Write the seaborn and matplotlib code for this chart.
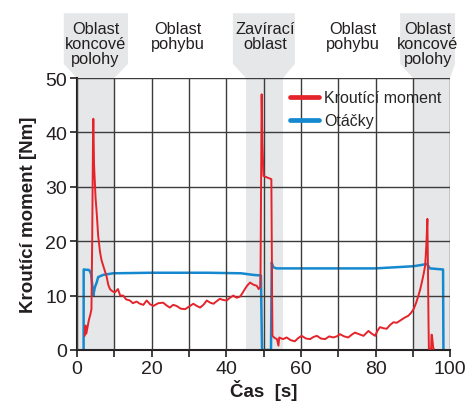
import matplotlib
matplotlib.use('Agg')
import matplotlib.pyplot as plt
from matplotlib.lines import Line2D
from matplotlib.patches import Polygon, Rectangle
import pandas as pd
import seaborn as sns

# --- data --------------------------------------------------------------
torque_t = [2.1, 2.3, 2.5, 2.8, 3.2, 3.6, 3.9, 4.1, 4.3, 4.4, 4.6, 5.0, 5.3, 5.7,
            6.2, 6.6, 7.05, 7.5, 7.9, 8.4, 8.85, 9.5, 10.2, 11.0, 11.6, 12.4,
            13.2, 14.2, 15.0, 16.0, 16.9, 17.8, 18.7, 19.6, 20.5, 21.8, 23.1,
            24.0, 24.9, 25.8, 26.7, 27.8, 29.0, 30.1, 31.2, 32.1, 33.0, 33.9,
            34.8, 35.7, 36.6, 37.5, 38.3, 39.2, 40.1, 41.0, 41.9, 42.8, 43.7,
            44.4, 45.0, 45.7, 46.4, 47.3, 48.2, 48.7, 49.1, 49.2, 49.35, 49.5,
            49.7, 50.0, 51.0, 52.1, 52.3, 52.4, 53.0, 53.6, 54.0, 54.2, 55.2,
            56.2, 57.3, 58.4, 59.3, 60.2, 61.4, 62.5, 63.4, 64.3, 65.4, 66.5,
            67.6, 68.7, 69.6, 70.5, 71.6, 72.7, 73.6, 74.5, 75.6, 76.8, 77.5,
            78.1, 79.0, 79.9, 80.5, 81.2, 82.1, 83.0, 83.9, 84.8, 85.7, 86.6,
            87.7, 88.8, 89.5, 90.2, 90.9, 91.5, 92.0, 92.4, 92.9, 93.3, 93.6,
            93.9, 94.05, 94.2, 94.3, 94.9, 95.0, 95.1, 95.5, 95.6]
torque_nm = [2.6, 4.5, 3.0, 4.0, 5.5, 6.5, 7.5, 20.0, 38.0, 42.5, 34.0, 28.0, 25.3,
             21.0, 18.0, 16.5, 15.5, 14.5, 13.7, 12.0, 11.2, 10.8, 10.6, 11.2,
             10.0, 10.0, 9.3, 9.1, 8.6, 8.9, 8.5, 8.3, 9.1, 8.4, 8.1, 8.6, 8.7,
             8.2, 7.8, 8.3, 8.1, 7.6, 7.5, 8.0, 8.5, 8.1, 7.8, 8.3, 9.1, 8.7,
             8.5, 9.0, 9.4, 9.2, 9.1, 9.6, 10.0, 9.6, 9.8, 10.5, 11.2, 11.9,
             12.4, 12.0, 11.8, 11.2, 11.6, 14.3, 30.0, 47.0, 38.0, 32.0, 31.7,
             31.4, 10.0, 2.6, 2.2, 2.0, 0.8, 2.3, 2.0, 2.3, 1.8, 1.6, 2.2, 2.6,
             2.1, 2.0, 2.4, 2.6, 2.1, 2.0, 2.5, 2.3, 2.5, 2.9, 2.5, 2.3, 2.8,
             3.2, 2.9, 2.6, 3.1, 3.5, 3.0, 2.6, 3.5, 4.2, 4.0, 3.9, 4.6, 5.1,
             5.0, 5.4, 5.9, 6.3, 6.8, 7.5, 8.7, 10.0, 11.2, 12.4, 14.0, 15.5,
             19.0, 24.1, 15.5, 5.0, 0.2, 0.2, 2.8, 2.8, 0.2, 0.2]

speed_t = [1.8, 1.82, 3.3, 3.8, 4.1, 4.4, 4.8, 5.3, 5.7, 7.0, 9.7, 20.0, 35.0,
           44.0, 47.3, 49.3, 49.6, 52.0, 52.2, 52.6, 53.5, 65.0, 80.0, 90.2,
           93.8, 94.6, 98.1, 98.2]
speed = [0.0, 14.8, 14.7, 14.0, 12.0, 10.0, 11.5, 12.4, 13.4, 13.8, 14.1, 14.2,
         14.2, 14.1, 13.8, 13.7, 0.0, 0.0, 16.1, 15.2, 15.0, 15.0, 15.0, 15.4,
         15.8, 15.0, 14.8, 0.0]

region_labels = ['Oblast\nkoncové\npolohy', 'Oblast\npohybu', 'Zavírací\noblast',
                 'Oblast\npohybu', 'Oblast\nkoncové\npolohy']
region_centers = [5, 27, 50.4, 74, 94]
bands = [(0, 10), (45.3, 55.2), (90, 100)]
tabs = [(-3.5, 13.7), (41.8, 58.4), (86.6, 101.3)]

RED = '#e5232b'
BLUE = '#1589d0'
GREY = '#e6e7e8'

df_torque = pd.DataFrame({'t': torque_t, 'v': torque_nm})
df_speed = pd.DataFrame({'t': speed_t, 'v': speed})

sns.set_style('white')
plt.rcParams['font.family'] = ['Liberation Sans', 'DejaVu Sans']

fig = plt.figure(figsize=(4.66, 4.06), dpi=100)
ax = fig.add_axes([0.165, 0.1355, 0.801, 0.6699])

# grey regions and header tabs
for (a, b), (ta, tb) in zip(bands, tabs):
    ax.axvspan(a, b, color=GREY, zorder=0, lw=0)
    poly = Polygon([(ta, 61.9), (tb, 61.9), (tb, 52.6), (b, 50), (a, 50), (ta, 52.6)],
                   closed=True, facecolor=GREY, edgecolor='none', clip_on=False, zorder=0)
    ax.add_patch(poly)

for lab, c in zip(region_labels, region_centers):
    ax.text(c, 60.5, lab, ha='center', va='top', fontsize=11.8, linespacing=1.02,
            color='#231f20', clip_on=False)

# white box behind legend
ax.add_patch(Rectangle((55.2, 40.6), 34.8, 9.4, facecolor='white', edgecolor='none', zorder=1.5))

sns.lineplot(data=df_torque, x='t', y='v', sort=False, estimator=None, color=RED,
             lw=1.4, ax=ax, zorder=3)
sns.lineplot(data=df_speed, x='t', y='v', sort=False, estimator=None, color=BLUE,
             lw=1.8, ax=ax, zorder=2.5)

ax.set_xlim(0, 100)
ax.set_ylim(0, 50)
ax.set_xticks(range(0, 101, 10))
ax.set_xticklabels([str(v) if v % 20 == 0 else '' for v in range(0, 101, 10)])
ax.set_yticks(range(0, 51, 10))
ax.grid(True, color='#3c3c3c', lw=1.0, zorder=1)
ax.set_axisbelow(False)
for g in ax.get_xgridlines() + ax.get_ygridlines():
    g.set_zorder(1)
ax.tick_params(axis='both', direction='out', length=5, width=1.2, labelsize=14,
               colors='#231f20', pad=2, bottom=True, left=True)
for s in ['top', 'right']:
    ax.spines[s].set_visible(False)
for s in ['left', 'bottom']:
    ax.spines[s].set_color('#231f20')
    ax.spines[s].set_linewidth(1.5)

ax.set_xlabel('Čas  [s]', fontsize=13.5, fontweight='bold', labelpad=2, color='#231f20')
ax.set_ylabel('Kroutící moment [Nm]', fontsize=13.5, fontweight='bold', labelpad=6,
              color='#231f20')

handles = [Line2D([], [], color=RED, lw=3.4), Line2D([], [], color=BLUE, lw=3.4)]
ax.legend(handles, ['Kroutící moment', 'Otáčky'], loc='upper left',
          bbox_to_anchor=(0.545, 0.99), frameon=False, fontsize=11.5,
          handlelength=1.8, handletextpad=0.35, labelspacing=0.5, borderaxespad=0.2)

fig.savefig('out.png', dpi=100)
